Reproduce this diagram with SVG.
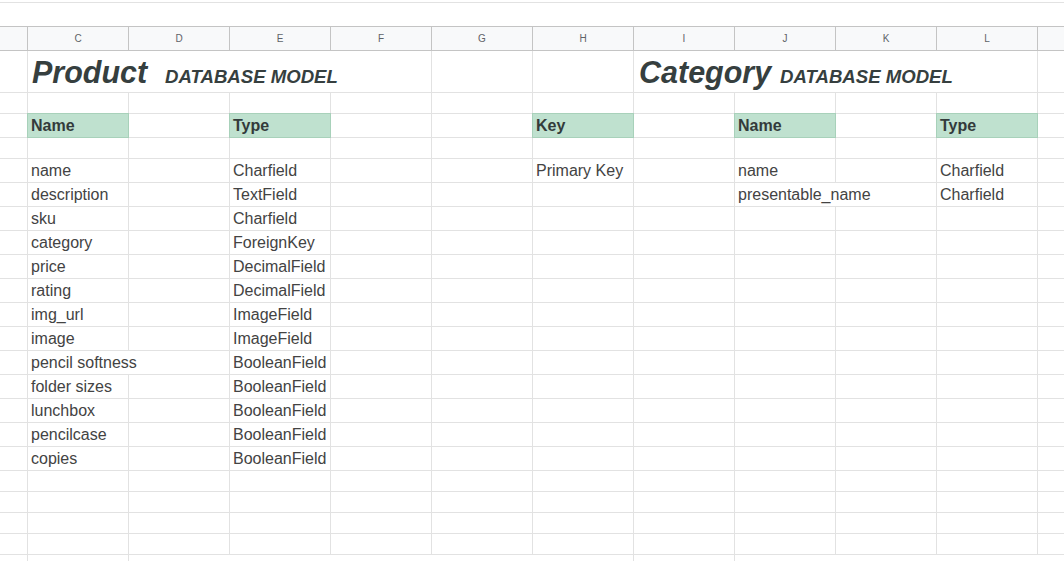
<svg xmlns="http://www.w3.org/2000/svg" width="1064" height="561" viewBox="0 0 1064 561">
<style>
.grid{stroke:#e2e2e2;stroke-width:1;fill:none;shape-rendering:crispEdges}
.hdrline{stroke:#c4c4c4;stroke-width:1;fill:none;shape-rendering:crispEdges}
.col{font-family:"Liberation Sans",Arial,sans-serif;font-size:10px;fill:#5f6368;text-anchor:middle}
.cell{font-family:"Liberation Sans",Arial,sans-serif;font-size:16px;fill:#434343}
.head{font-family:"Liberation Sans",Arial,sans-serif;font-size:16px;font-weight:bold;fill:#333b3b}
.big{font-family:"Liberation Sans",Arial,sans-serif;font-size:30.5px;font-weight:bold;font-style:italic;fill:#363f3f}
.sub{font-family:"Liberation Sans",Arial,sans-serif;font-size:18.6px;font-weight:bold;font-style:italic;fill:#363f3f}
.green{fill:#bfe1cf;stroke:#a8d1ba;stroke-width:1;shape-rendering:crispEdges}
</style>
<rect width="1064" height="561" fill="#ffffff"/>
<g id="sheet-grid">
  <rect x="0" y="26.5" width="1064" height="24" fill="#f8f9fa"/>
  <path class="grid" d="M0 2.5H1064"/>
  <path class="grid" d="M0 92.5H1064M0 113.5H1064M0 137.5H1064M0 158.5H1064M0 182.5H1064M0 206.5H1064M0 230.5H1064M0 254.5H1064M0 278.5H1064M0 302.5H1064M0 326.5H1064M0 350.5H1064M0 374.5H1064M0 398.5H1064M0 422.5H1064M0 446.5H1064M0 470.5H1064M0 491.5H1064M0 512.5H1064M0 533.5H1064M0 554.5H1064"/>
  <path class="grid" d="M27.5 50V561M431.5 50V554M532.5 50V554M633.5 50V561M1037.5 50V554M128.5 92V350M128.5 374V561M229.5 92V554M330.5 92V554M734.5 92V561M835.5 92V182M835.5 206V554M936.5 92V554"/>
  <path class="hdrline" d="M0 26.5H1064M0 50.5H1064M27.5 26V50M128.5 26V50M229.5 26V50M330.5 26V50M431.5 26V50M532.5 26V50M633.5 26V50M734.5 26V50M835.5 26V50M936.5 26V50M1037.5 26V50"/>
  <g id="column-headers">
    <text class="col" x="78" y="42">C</text>
    <text class="col" x="179" y="42">D</text>
    <text class="col" x="280" y="42">E</text>
    <text class="col" x="381" y="42">F</text>
    <text class="col" x="482" y="42">G</text>
    <text class="col" x="583" y="42">H</text>
    <text class="col" x="684" y="42">I</text>
    <text class="col" x="785" y="42">J</text>
    <text class="col" x="886" y="42">K</text>
    <text class="col" x="987" y="42">L</text>
  </g>
</g>
<g id="product-title">
  <text class="big" x="32" y="83">Product</text>
  <text class="sub" x="165" y="83">DATABASE MODEL</text>
</g>
<g id="product-table">
  <rect class="green" x="27.5" y="113.5" width="101" height="24"/>
  <rect class="green" x="229.5" y="113.5" width="101" height="24"/>
  <text class="head" x="31" y="131">Name</text>
  <text class="head" x="233" y="131">Type</text>
  <text class="cell" x="31" y="176">name</text>
  <text class="cell" x="31" y="200">description</text>
  <text class="cell" x="31" y="224">sku</text>
  <text class="cell" x="31" y="248">category</text>
  <text class="cell" x="31" y="272">price</text>
  <text class="cell" x="31" y="296">rating</text>
  <text class="cell" x="31" y="320">img_url</text>
  <text class="cell" x="31" y="344">image</text>
  <text class="cell" x="31" y="368">pencil softness</text>
  <text class="cell" x="31" y="392">folder sizes</text>
  <text class="cell" x="31" y="416">lunchbox</text>
  <text class="cell" x="31" y="440">pencilcase</text>
  <text class="cell" x="31" y="464">copies</text>
  <text class="cell" x="233" y="176">Charfield</text>
  <text class="cell" x="233" y="200">TextField</text>
  <text class="cell" x="233" y="224">Charfield</text>
  <text class="cell" x="233" y="248">ForeignKey</text>
  <text class="cell" x="233" y="272">DecimalField</text>
  <text class="cell" x="233" y="296">DecimalField</text>
  <text class="cell" x="233" y="320">ImageField</text>
  <text class="cell" x="233" y="344">ImageField</text>
  <text class="cell" x="233" y="368">BooleanField</text>
  <text class="cell" x="233" y="392">BooleanField</text>
  <text class="cell" x="233" y="416">BooleanField</text>
  <text class="cell" x="233" y="440">BooleanField</text>
  <text class="cell" x="233" y="464">BooleanField</text>
</g>
<g id="category-title">
  <text class="big" x="639" y="83">Category</text>
  <text class="sub" x="780" y="83">DATABASE MODEL</text>
</g>
<g id="category-table">
  <rect class="green" x="532.5" y="113.5" width="101" height="24"/>
  <rect class="green" x="734.5" y="113.5" width="101" height="24"/>
  <rect class="green" x="936.5" y="113.5" width="101" height="24"/>
  <text class="head" x="536" y="131">Key</text>
  <text class="head" x="738" y="131">Name</text>
  <text class="head" x="940" y="131">Type</text>
  <text class="cell" x="536" y="176">Primary Key</text>
  <text class="cell" x="738" y="176">name</text>
  <text class="cell" x="738" y="200">presentable_name</text>
  <text class="cell" x="940" y="176">Charfield</text>
  <text class="cell" x="940" y="200">Charfield</text>
</g>
</svg>
